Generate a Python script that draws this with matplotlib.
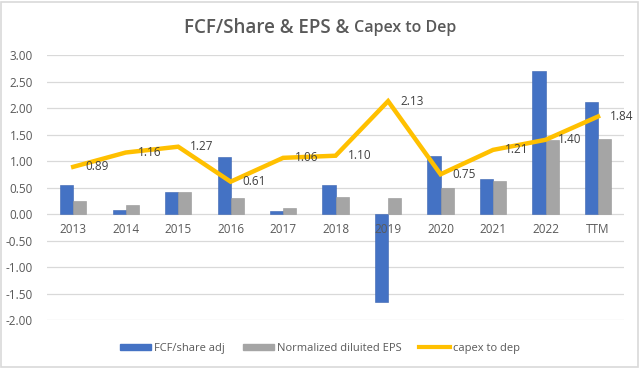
import matplotlib
matplotlib.use("Agg")
import matplotlib.pyplot as plt
from matplotlib.patches import Rectangle
from matplotlib.lines import Line2D
import numpy as np

categories = ["2013", "2014", "2015", "2016", "2017", "2018", "2019", "2020", "2021", "2022", "TTM"]
fcf_share_adj = [0.55, 0.08, 0.42, 1.07, 0.05, 0.55, -1.66, 1.10, 0.67, 2.69, 2.12]
norm_diluted_eps = [0.25, 0.17, 0.41, 0.30, 0.12, 0.32, 0.30, 0.49, 0.62, 1.40, 1.42]
capex_to_dep = [0.89, 1.16, 1.27, 0.61, 1.06, 1.10, 2.13, 0.75, 1.21, 1.40, 1.84]
yticks = [-2.0, -1.5, -1.0, -0.5, 0.0, 0.5, 1.0, 1.5, 2.0, 2.5, 3.0]

plt.rcParams['font.family'] = ['Open Sans', 'DejaVu Sans']
txt = '#595959'

fig = plt.figure(figsize=(6.4, 3.68), dpi=100)
fig.patch.set_facecolor('white')
fig.add_artist(Rectangle((0.002, 0.003), 0.995, 0.992, transform=fig.transFigure,
                         fill=False, edgecolor='#D9D9D9', linewidth=1.2))

ax = fig.add_axes([0.0734, 0.1304, 0.902, 0.7201])
x = np.arange(len(categories))
w = 0.25
ax.bar(x - w/2, fcf_share_adj, w, color='#4472C4', edgecolor='#3A63B0', linewidth=0.4, zorder=3)
ax.bar(x + w/2, norm_diluted_eps, w, color='#A5A5A5', edgecolor='#969696', linewidth=0.4, zorder=3)
ax.plot(x, capex_to_dep, color='#FFC000', linewidth=3.2, zorder=4, solid_joinstyle='miter')

for xi, v in zip(x, capex_to_dep):
    ax.annotate(f"{v:.2f}", (xi, v), xytext=(12, 0), textcoords='offset pixels',
                ha='left', va='center', fontsize=8.5, color='#404040', zorder=5)

ax.set_xlim(-0.5, len(categories) - 0.5)
ax.set_ylim(-2.0, 3.0)
ax.set_yticks(yticks)
ax.set_yticklabels([f"{t:.2f}" for t in yticks], fontsize=8.5, color=txt)
ax.tick_params(axis='y', length=0, pad=10)
ax.set_xticks([])
for xi, c in zip(x, categories):
    ax.annotate(c, (xi, 0), xytext=(0, -9), textcoords='offset pixels',
                ha='center', va='top', fontsize=8.5, color=txt, zorder=6)
ax.grid(axis='y', color='#D9D9D9', linewidth=0.9, zorder=0)
for s in ax.spines.values():
    s.set_visible(False)

fig.text(0.553, 0.925, "FCF/Share & EPS & ", ha='right', va='center', fontsize=13.5,
         color=txt, fontweight='semibold')
fig.text(0.553, 0.925, "Capex to Dep", ha='left', va='center', fontsize=11.5,
         color=txt, fontweight='semibold')

handles = [Rectangle((0, 0), 1, 1, color='#4472C4'),
           Rectangle((0, 0), 1, 1, color='#A5A5A5'),
           Line2D([0], [0], color='#FFC000', linewidth=3)]
fig.legend(handles, ["FCF/share adj", "Normalized diluited EPS", "capex to dep"],
           loc='center', bbox_to_anchor=(0.5, 0.054), ncol=3, frameon=False,
           fontsize=8, labelcolor=txt, handlelength=2.8, handleheight=0.5,
           columnspacing=1.6, handletextpad=0.25)

fig.savefig("out.png", dpi=100, facecolor='white')
